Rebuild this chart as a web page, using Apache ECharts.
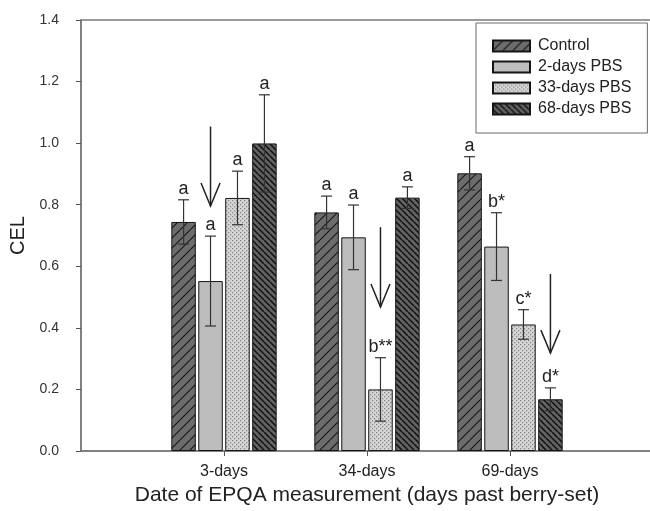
<!DOCTYPE html>
<html>
<head>
<meta charset="utf-8">
<script src="https://cdn.jsdelivr.net/npm/echarts@6/dist/echarts.min.js"></script>
<style>html,body{margin:0;padding:0;background:#fff}#c{width:650px;height:511px}</style>
</head>
<body>
<div id="c"></div>
<script>
// ---- data ----
const categories = ['3-days', '34-days', '69-days'];
const seriesNames = ['Control', '2-days PBS', '33-days PBS', '68-days PBS'];
const control    = [0.744, 0.775, 0.902];
const controlErr = [0.072, 0.053, 0.054];
const pbs2       = [0.552, 0.694, 0.664];
const pbs2Err    = [0.146, 0.105, 0.110];
const pbs33      = [0.822, 0.200, 0.411];
const pbs33Err   = [0.087, 0.103, 0.048];
const pbs68      = [0.999, 0.823, 0.168];
const pbs68Err   = [0.158, 0.035, 0.037];
const controlLetters = ['a', 'a', 'a'];
const pbs2Letters    = ['a', 'a', 'b*'];
const pbs33Letters   = ['a', 'b**', 'c*'];
const pbs68Letters   = ['a', 'a', 'd*'];
// arrows: category index, series slot, start value, tip value
const arrowCat  = [0, 1, 2];
const arrowSlot = [1, 2, 3];
const arrowTop  = [1.054, 0.727, 0.575];
const arrowTip  = [0.796, 0.468, 0.318];
const yTicks = [0, 0.2, 0.4, 0.6, 0.8, 1.0, 1.2, 1.4];

// ---- styling helpers ----
const FONT = 'Liberation Sans, Arial, sans-serif';
const BAR_W = 24.5;
const BAR_GAP = 0.1;
const STEP = BAR_W * (1 + BAR_GAP);

function pattern(w, h, base, draw) {
  const c = document.createElement('canvas');
  c.width = w; c.height = h;
  const ctx = c.getContext('2d');
  ctx.fillStyle = base; ctx.fillRect(0, 0, w, h);
  draw(ctx, w, h);
  return { image: c, repeat: 'repeat' };
}
function hatch(base, line, s, lw, forward) {
  return pattern(s, s, base, (ctx) => {
    ctx.strokeStyle = line; ctx.lineWidth = lw;
    ctx.beginPath();
    for (let k = -s; k <= s; k += s) {
      if (forward) { ctx.moveTo(k, s); ctx.lineTo(k + s, 0); }
      else { ctx.moveTo(k, 0); ctx.lineTo(k + s, s); }
    }
    ctx.stroke();
  });
}
const fills = [
  hatch('#6c6c6c', '#151515', 10, 1.1, true),
  '#bdbdbd',
  pattern(4, 4, '#d6d6d6', (ctx) => {
    ctx.fillStyle = '#8a8a8a';
    ctx.fillRect(0, 0, 1.3, 1.3); ctx.fillRect(2, 2, 1.3, 1.3);
  }),
  hatch('#626262', '#111111', 6, 1.5, false)
];

const means = [control, pbs2, pbs33, pbs68];
const errs = [controlErr, pbs2Err, pbs33Err, pbs68Err];
const letters = [controlLetters, pbs2Letters, pbs33Letters, pbs68Letters];
const xCats = [''].concat(categories, ['']);

const barSeries = seriesNames.map((name, s) => ({
  name: name,
  type: 'bar',
  barWidth: BAR_W,
  barGap: (BAR_GAP * 100) + '%',
  data: means[s].map((v, i) => [i + 1, v]),
  itemStyle: { color: fills[s], borderColor: '#151515', borderWidth: 1 },
  z: 2
}));

const errData = [];
const errLabels = [];
seriesNames.forEach((n, s) => {
  means[s].forEach((v, i) => {
    errData.push([i + 1, s, v, errs[s][i]]);
    errLabels.push(letters[s][i]);
  });
});

const arrowData = arrowCat.map((c, k) => [c + 1, arrowSlot[k], arrowTop[k], arrowTip[k]]);

const chart = echarts.init(document.getElementById('c'), null, { renderer: 'canvas' });
chart.setOption({
  animation: false,
  backgroundColor: '#ffffff',
  textStyle: { fontFamily: FONT },
  grid: { left: 81, top: 20, width: 572, bottom: 60, outerBoundsMode: 'none', containLabel: false, show: true, borderColor: '#7a7a7a', borderWidth: 1.5, backgroundColor: 'transparent' },
  legend: {
    data: seriesNames,
    orient: 'vertical',
    left: 476, top: 23,
    padding: [15, 16, 16, 16],
    itemWidth: 37, itemHeight: 11, itemGap: 5,
    icon: 'rect',
    borderColor: '#6a6a6a', borderWidth: 1,
    textStyle: { fontSize: 16, color: '#222', fontFamily: FONT, lineHeight: 16, padding: [0, 0, 0, 3] },
    selectedMode: false
  },
  xAxis: {
    type: 'category',
    data: xCats,
    boundaryGap: false,
    name: 'Date of EPQA measurement (days past berry-set)',
    nameLocation: 'middle',
    nameGap: 29,
    nameTextStyle: { fontSize: 21, color: '#222', fontFamily: FONT },
    axisLine: { lineStyle: { color: '#7a7a7a', width: 1.5 } },
    axisTick: { show: true, length: 5, interval: (i, v) => v !== '', lineStyle: { color: '#555' } },
    axisLabel: { interval: 0, margin: 13, fontSize: 16, color: '#222', fontFamily: FONT },
    splitLine: { show: false }
  },
  yAxis: {
    type: 'value',
    min: yTicks[0], max: yTicks[yTicks.length - 1], interval: 0.2,
    name: 'CEL',
    nameLocation: 'middle',
    nameGap: 50,
    nameTextStyle: { fontSize: 20, color: '#222', fontFamily: FONT },
    axisLine: { show: true, lineStyle: { color: '#7a7a7a', width: 1.5 } },
    axisTick: { show: true, length: 5, lineStyle: { color: '#555' } },
    axisLabel: { margin: 22, fontSize: 14, color: '#333', fontFamily: FONT, formatter: v => v.toFixed(1) },
    splitLine: { show: false }
  },
  series: barSeries.concat([
    {
      type: 'custom',
      name: 'errors',
      z: 5,
      silent: true,
      data: errData,
      encode: { x: 0, y: 2 },
      renderItem: function (params, api) {
        const cat = api.value(0), slot = api.value(1), m = api.value(2), e = api.value(3);
        const top = api.coord([cat, m + e]);
        const bot = api.coord([cat, m - e]);
        const x = top[0] + (slot - 1.5) * STEP;
        const cw = 5.5;
        const ls = { stroke: '#333', lineWidth: 1.2 };
        return {
          type: 'group',
          children: [
            { type: 'line', shape: { x1: x, y1: top[1], x2: x, y2: bot[1] }, style: ls },
            { type: 'line', shape: { x1: x - cw, y1: top[1], x2: x + cw, y2: top[1] }, style: ls },
            { type: 'line', shape: { x1: x - cw, y1: bot[1], x2: x + cw, y2: bot[1] }, style: ls },
            { type: 'text', style: { x: x, y: top[1] - 2, text: errLabels[params.dataIndex], fill: '#222', font: '18px ' + FONT, textAlign: 'center', textVerticalAlign: 'bottom' } }
          ]
        };
      }
    },
    {
      type: 'custom',
      name: 'arrows',
      z: 5,
      silent: true,
      data: arrowData,
      encode: { x: 0, y: 2 },
      renderItem: function (params, api) {
        const cat = api.value(0), slot = api.value(1);
        const a = api.coord([cat, api.value(2)]);
        const b = api.coord([cat, api.value(3)]);
        const x = a[0] + (slot - 1.5) * STEP;
        const ls = { stroke: '#222', lineWidth: 1.5, fill: null };
        return {
          type: 'group',
          children: [
            { type: 'line', shape: { x1: x, y1: a[1], x2: x, y2: b[1] }, style: ls },
            { type: 'polyline', shape: { points: [[x - 9.5, b[1] - 23], [x, b[1]], [x + 9.5, b[1] - 23]] }, style: ls }
          ]
        };
      }
    }
  ])
});
</script>
</body>
</html>
